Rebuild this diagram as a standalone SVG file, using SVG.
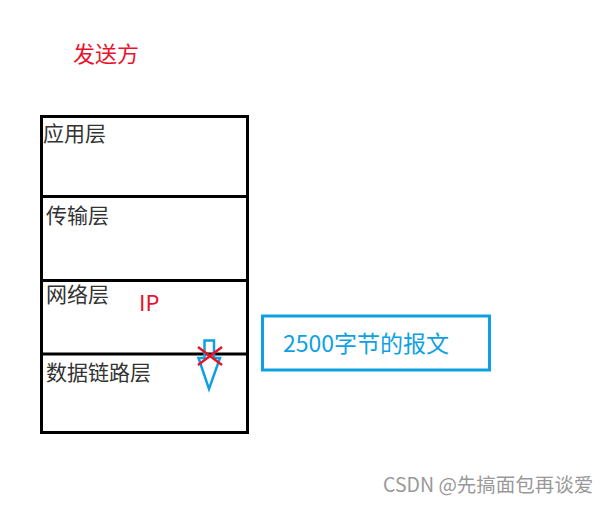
<svg xmlns="http://www.w3.org/2000/svg" width="608" height="505" viewBox="0 0 608 505">
<style>
.lbl{font-family:"Noto Sans CJK SC","Noto Sans",sans-serif;font-size:21px;fill:#333}
.red{font-family:"Noto Sans CJK SC","Noto Sans",sans-serif;font-size:22px;fill:#e8132b}
.blue{font-family:"Noto Sans CJK SC","Noto Sans",sans-serif;font-size:23px;fill:#0ea1e2}
.wm{font-family:"Noto Sans CJK SC","Noto Sans",sans-serif;font-size:19.5px;fill:#999}
</style>
<rect width="608" height="505" fill="#fff"/>
<text class="red" x="73" y="62">发送方</text>
<g id="stack">
<rect x="41.5" y="116.5" width="206" height="316" fill="none" stroke="#000" stroke-width="3"/>
<line x1="41" y1="196.5" x2="248" y2="196.5" stroke="#000" stroke-width="3"/>
<line x1="41" y1="280.5" x2="248" y2="280.5" stroke="#000" stroke-width="3"/>
<line x1="41" y1="354" x2="248" y2="354" stroke="#000" stroke-width="3"/>
</g>
<g id="app"><text class="lbl" x="43" y="141">应用层</text></g>
<g id="transport"><text class="lbl" x="46" y="223">传输层</text></g>
<g id="network"><text class="lbl" x="46" y="302">网络层</text><text class="red" x="139" y="311">IP</text></g>
<g id="datalink"><text class="lbl" x="46" y="380">数据链路层</text></g>
<g id="msg">
<rect x="262.5" y="316" width="227" height="54" fill="none" stroke="#0ea1e2" stroke-width="3"/>
<text class="blue" x="283" y="352">2500字节的报文</text>
</g>
<g id="connectors">
<polygon points="204.5,340.5 214,340.5 214,358 220,358 209,389 198.5,358 204.5,358" fill="none" stroke="#0ea1e2" stroke-width="2.5" stroke-linejoin="miter"/>
<line x1="198" y1="347" x2="222" y2="365" stroke="#e8132b" stroke-width="2.5"/>
<line x1="222" y1="347" x2="198" y2="365" stroke="#e8132b" stroke-width="2.5"/>
</g>
<text class="wm" x="383" y="492">CSDN @先搞面包再谈爱</text>
</svg>
